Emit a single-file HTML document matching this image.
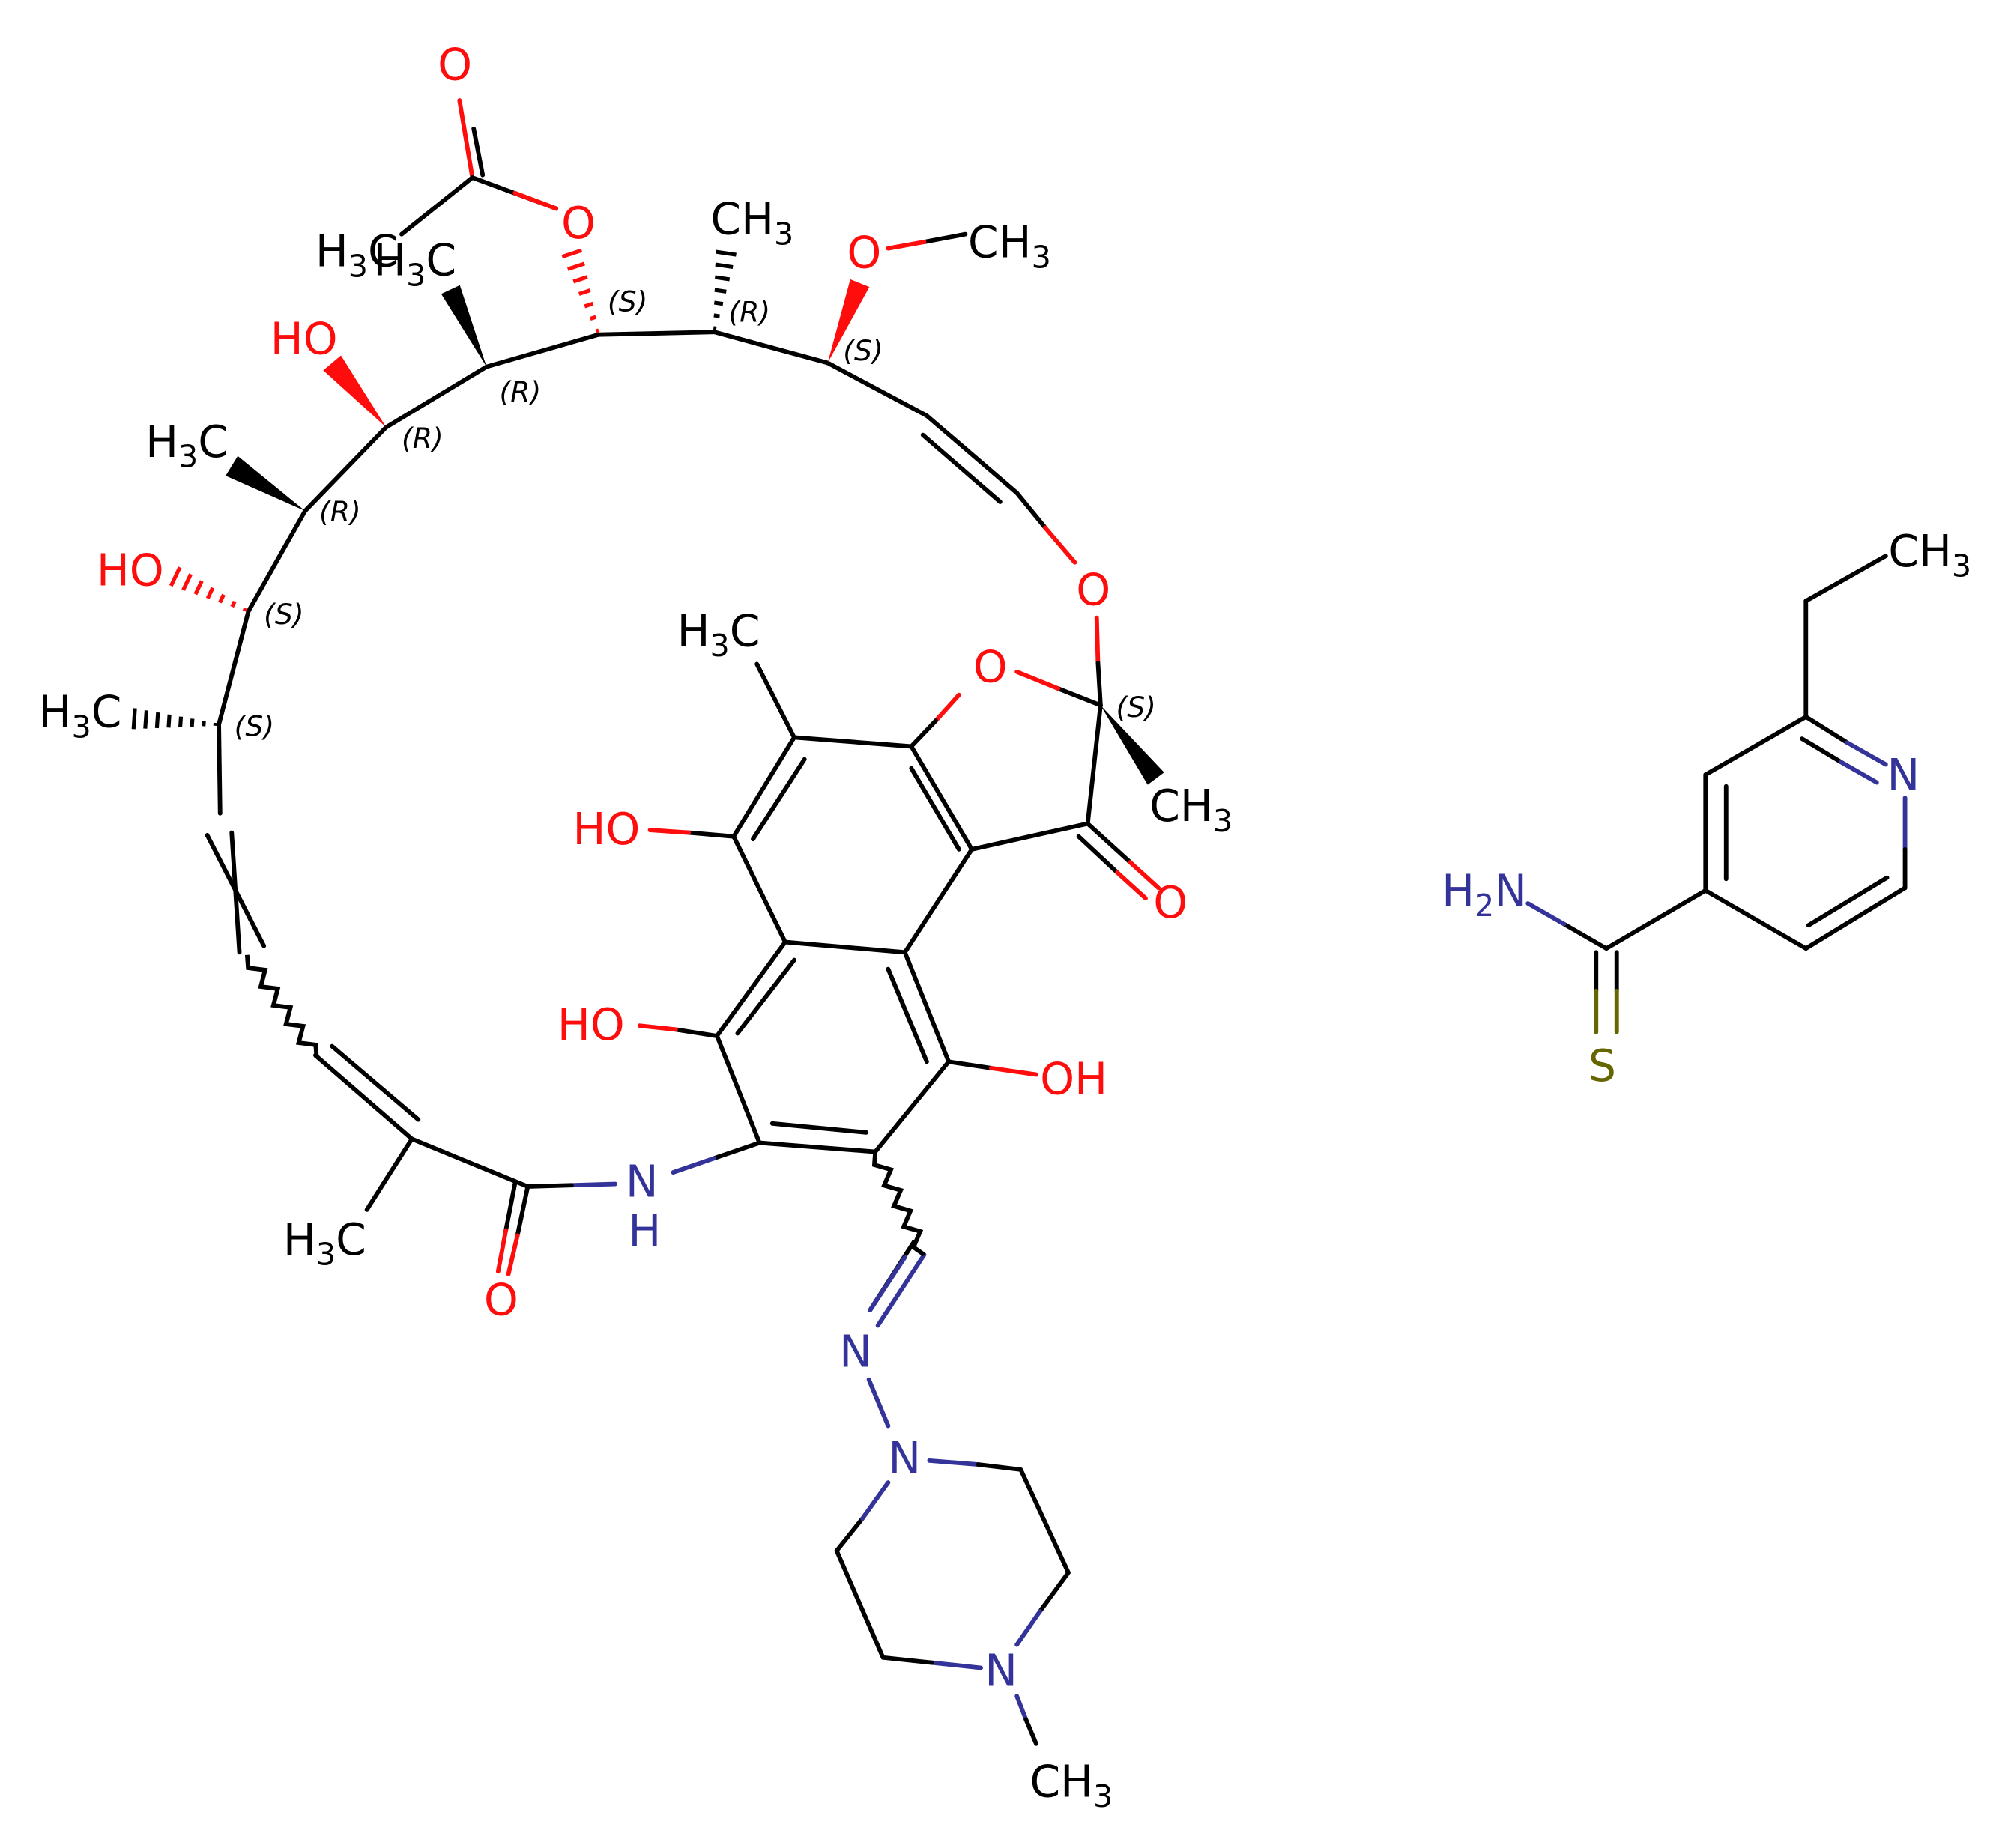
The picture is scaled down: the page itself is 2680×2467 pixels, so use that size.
<!DOCTYPE html>
<html><head><meta charset="utf-8"><style>
html,body{margin:0;padding:0;background:#fff}
svg{display:block}
text{font-family:"DejaVu Sans","Liberation Sans",sans-serif;font-size:34px}
.r{fill:#ff0d0d}.b{fill:#333399}.y{fill:#666600}.k{fill:#000}
.st{font-size:22px;font-style:italic}
</style></head><body>
<svg id="s" width="2680" height="2467" viewBox="0 0 1560 1436" xmlns="http://www.w3.org/2000/svg">
<g id="bonds" stroke="#000" stroke-width="3.4" fill="none" stroke-linecap="round">
<!-- acetyl -->
<line x1="367" y1="138" x2="357" y2="78" stroke="#ff0d0d"/>
<line x1="375" y1="136" x2="368" y2="100"/>
<line x1="367" y1="138" x2="312" y2="182"/>
<line x1="367" y1="138" x2="432" y2="162"/>
<line x1="400" y1="150" x2="432" y2="162" stroke="#ff0d0d"/>
<!-- macro chain -->
<line x1="465" y1="260" x2="555" y2="258"/>
<line x1="555" y1="258" x2="643" y2="282"/>
<line x1="643" y1="282" x2="720" y2="323"/>
<line x1="720" y1="323" x2="790" y2="383"/>
<line x1="717" y1="338" x2="777" y2="390"/>
<line x1="790" y1="383" x2="812" y2="410"/>
<line x1="812" y1="410" x2="835" y2="437" stroke="#ff0d0d"/>
<line x1="852" y1="480" x2="853" y2="515" stroke="#ff0d0d"/>
<line x1="853" y1="515" x2="855" y2="548"/>
<line x1="718" y1="188" x2="750" y2="182"/>
<line x1="690" y1="193" x2="718" y2="188" stroke="#ff0d0d"/>
<!-- furanone -->
<line x1="855" y1="548" x2="822" y2="535"/>
<line x1="822" y1="535" x2="790" y2="522" stroke="#ff0d0d"/>
<line x1="745" y1="540" x2="727" y2="560" stroke="#ff0d0d"/>
<line x1="727" y1="560" x2="708" y2="580"/>
<line x1="855" y1="548" x2="845" y2="640"/>
<line x1="845" y1="640" x2="878" y2="670"/>
<line x1="878" y1="670" x2="900" y2="690" stroke="#ff0d0d"/>
<line x1="838" y1="650" x2="868" y2="678"/>
<line x1="868" y1="678" x2="890" y2="698" stroke="#ff0d0d"/>
<line x1="845" y1="640" x2="755" y2="660"/>
<!-- aromatics -->
<line x1="708" y1="580" x2="755" y2="660"/>
<line x1="708" y1="597" x2="745" y2="660"/>
<line x1="617" y1="573" x2="708" y2="580"/>
<line x1="617" y1="573" x2="588" y2="516"/>
<line x1="617" y1="573" x2="570" y2="650"/>
<line x1="625" y1="590" x2="585" y2="652"/>
<line x1="570" y1="650" x2="535" y2="647"/>
<line x1="535" y1="647" x2="505" y2="645" stroke="#ff0d0d"/>
<line x1="570" y1="650" x2="610" y2="732"/>
<line x1="755" y1="660" x2="703" y2="740"/>
<line x1="610" y1="732" x2="703" y2="740"/>
<line x1="703" y1="740" x2="737" y2="825"/>
<line x1="690" y1="753" x2="720" y2="825"/>
<line x1="737" y1="825" x2="770" y2="830"/>
<line x1="770" y1="830" x2="805" y2="835" stroke="#ff0d0d"/>
<line x1="737" y1="825" x2="680" y2="895"/>
<line x1="680" y1="895" x2="590" y2="888"/>
<line x1="673" y1="880" x2="600" y2="873"/>
<line x1="590" y1="888" x2="557" y2="805"/>
<line x1="557" y1="805" x2="610" y2="732"/>
<line x1="573" y1="803" x2="617" y2="746"/>
<line x1="557" y1="805" x2="525" y2="800"/>
<line x1="525" y1="800" x2="497" y2="797" stroke="#ff0d0d"/>
<!-- amide -->
<line x1="590" y1="888" x2="555" y2="900"/>
<line x1="555" y1="900" x2="523" y2="911" stroke="#333399"/>
<line x1="478" y1="920" x2="444" y2="921" stroke="#333399"/>
<line x1="444" y1="921" x2="410" y2="922"/>
<line x1="410" y1="922" x2="402" y2="960"/>
<line x1="402" y1="960" x2="395" y2="990" stroke="#ff0d0d"/>
<line x1="400" y1="920" x2="393" y2="956"/>
<line x1="393" y1="956" x2="387" y2="988" stroke="#ff0d0d"/>
<line x1="410" y1="922" x2="320" y2="885"/>
<line x1="320" y1="885" x2="285" y2="940"/>
<line x1="320" y1="885" x2="245" y2="820"/>
<line x1="325" y1="870" x2="258" y2="813"/>
<line x1="161" y1="649" x2="205" y2="735"/>
<line x1="180" y1="647" x2="186" y2="740"/>
<line x1="170" y1="563" x2="171" y2="632"/>
<line x1="170" y1="563" x2="193" y2="475"/>
<line x1="193" y1="475" x2="237" y2="397"/>
<line x1="237" y1="397" x2="300" y2="332"/>
<line x1="300" y1="332" x2="378" y2="285"/>
<line x1="378" y1="285" x2="465" y2="260"/>
<!-- hydrazone -->
<line x1="718" y1="975" x2="682" y2="1030" stroke="#333399"/>
<line x1="710" y1="965" x2="676" y2="1018"/>
<line x1="703" y1="977" x2="676" y2="1018" stroke="#333399"/>
<line x1="675" y1="1072" x2="690" y2="1108" stroke="#333399"/>
<line x1="722" y1="1135" x2="760" y2="1138" stroke="#333399"/>
<line x1="760" y1="1138" x2="793" y2="1142"/>
<line x1="793" y1="1142" x2="830" y2="1222"/>
<line x1="830" y1="1222" x2="808" y2="1252"/>
<line x1="808" y1="1252" x2="790" y2="1278" stroke="#333399"/>
<line x1="762" y1="1296" x2="724" y2="1292" stroke="#333399"/>
<line x1="724" y1="1292" x2="686" y2="1288"/>
<line x1="686" y1="1288" x2="650" y2="1205"/>
<line x1="650" y1="1205" x2="670" y2="1180"/>
<line x1="670" y1="1180" x2="690" y2="1152" stroke="#333399"/>
<line x1="790" y1="1318" x2="797" y2="1336" stroke="#333399"/>
<line x1="797" y1="1336" x2="805" y2="1355"/>
<!-- right molecule -->
<line x1="1465" y1="432" x2="1403" y2="467"/>
<line x1="1403" y1="467" x2="1403" y2="557"/>
<line x1="1403" y1="557" x2="1435" y2="577"/>
<line x1="1435" y1="577" x2="1465" y2="594" stroke="#333399"/>
<line x1="1400" y1="574" x2="1430" y2="592"/>
<line x1="1430" y1="592" x2="1458" y2="608" stroke="#333399"/>
<line x1="1480" y1="620" x2="1480" y2="660" stroke="#333399"/>
<line x1="1480" y1="660" x2="1480" y2="690"/>
<line x1="1480" y1="690" x2="1403" y2="737"/>
<line x1="1466" y1="682" x2="1405" y2="719"/>
<line x1="1403" y1="737" x2="1325" y2="692"/>
<line x1="1325" y1="692" x2="1325" y2="602"/>
<line x1="1341" y1="683" x2="1341" y2="611"/>
<line x1="1325" y1="602" x2="1403" y2="557"/>
<line x1="1325" y1="692" x2="1248" y2="737"/>
<line x1="1248" y1="737" x2="1215" y2="718"/>
<line x1="1215" y1="718" x2="1187" y2="702" stroke="#333399"/>
<line x1="1240" y1="740" x2="1240" y2="770"/>
<line x1="1240" y1="770" x2="1240" y2="802" stroke="#666600"/>
<line x1="1256" y1="740" x2="1256" y2="770"/>
<line x1="1256" y1="770" x2="1256" y2="802" stroke="#666600"/>
</g>
<g id="wedges"></g>
<!-- labels -->
<text x="340" y="62" class="r">O</text>
<text x="436" y="185" class="r">O</text>
<text x="245" y="207" class="k">H<tspan font-size="24" dy="8">3</tspan><tspan dy="-8">C</tspan></text>
<text x="290" y="214" class="k">H<tspan font-size="24" dy="8">3</tspan><tspan dy="-8">C</tspan></text>
<text x="552" y="182" class="k">CH<tspan font-size="24" dy="8">3</tspan></text>
<text x="658" y="208" class="r">O</text>
<text x="752" y="200" class="k">CH<tspan font-size="24" dy="8">3</tspan></text>
<text x="210" y="275" class="r">HO</text>
<text x="113" y="355" class="k">H<tspan font-size="24" dy="8">3</tspan><tspan dy="-8">C</tspan></text>
<text x="75" y="455" class="r">HO</text>
<text x="30" y="565" class="k">H<tspan font-size="24" dy="8">3</tspan><tspan dy="-8">C</tspan></text>
<text x="836" y="470" class="r">O</text>
<text x="526" y="502" class="k">H<tspan font-size="24" dy="8">3</tspan><tspan dy="-8">C</tspan></text>
<text x="756" y="530" class="r">O</text>
<text x="893" y="638" class="k">CH<tspan font-size="24" dy="8">3</tspan></text>
<text x="896" y="713" class="r">O</text>
<text x="445" y="656" class="r">HO</text>
<text x="433" y="808" class="r">HO</text>
<text x="808" y="850" class="r">OH</text>
<text x="486" y="930" class="b">N</text>
<text x="488" y="968" class="b">H</text>
<text x="376" y="1022" class="r">O</text>
<text x="220" y="975" class="k">H<tspan font-size="24" dy="8">3</tspan><tspan dy="-8">C</tspan></text>
<text x="652" y="1062" class="b">N</text>
<text x="690" y="1145" class="b">N</text>
<text x="765" y="1310" class="b">N</text>
<text x="800" y="1396" class="k">CH<tspan font-size="24" dy="8">3</tspan></text>
<text x="1467" y="440" class="k">CH<tspan font-size="24" dy="8">3</tspan></text>
<text x="1466" y="614" class="b">N</text>
<text x="1120" y="704" class="b">H<tspan font-size="24" dy="8">2</tspan><tspan dy="-8">N</tspan></text>
<text x="1234" y="840" class="y">S</text>
<text x="472" y="242" class="st">(S)</text>
<text x="566" y="250" class="st">(R)</text>
<text x="655" y="280" class="st">(S)</text>
<text x="867" y="557" class="st">(S)</text>
<text x="388" y="312" class="st">(R)</text>
<text x="312" y="348" class="st">(R)</text>
<text x="248" y="405" class="st">(R)</text>
<text x="205" y="485" class="st">(S)</text>
<text x="182" y="572" class="st">(S)</text>
</svg>
<script>
var NS="http://www.w3.org/2000/svg",g=document.getElementById("wedges");
function el(n,a){var e=document.createElementNS(NS,n);for(var k in a)e.setAttribute(k,a[k]);g.appendChild(e);}
function wedge(x1,y1,x2,y2,c,w){var dx=x2-x1,dy=y2-y1,L=Math.hypot(dx,dy),px=-dy/L*w,py=dx/L*w;
el("polygon",{points:x1+","+y1+" "+(x2+px)+","+(y2+py)+" "+(x2-px)+","+(y2-py),fill:c});}
function hash(x1,y1,x2,y2,c,w,n){var dx=x2-x1,dy=y2-y1,L=Math.hypot(dx,dy),ux=-dy/L,uy=dx/L;
for(var i=0;i<n;i++){var t=(i+0.3)/n,hw=w*t+0.8,x=x1+dx*t,y=y1+dy*t;
el("line",{x1:x-ux*hw,y1:y-uy*hw,x2:x+ux*hw,y2:y+uy*hw,stroke:c,"stroke-width":3});}}
function wavy(x1,y1,x2,y2,n){var dx=x2-x1,dy=y2-y1,L=Math.hypot(dx,dy),ux=-dy/L,uy=dx/L,p="M"+x1+","+y1;
for(var i=1;i<=n;i++){var t=i/n,s=(i%2?1:-1)*5*(i<n?1:0);p+=" L"+(x1+dx*t+ux*s)+","+(y1+dy*t+uy*s);}
el("path",{d:p,stroke:"#000","stroke-width":3.4,fill:"none"});}
hash(465,260,442,190,"#ff0d0d",8,7);
hash(555,258,565,190,"#000",8,7);
wedge(643,282,668,220,"#ff0d0d",8);
wedge(855,548,898,605,"#000",8);
wedge(378,285,350,225,"#000",8);
wedge(300,332,258,282,"#ff0d0d",9);
wedge(237,397,180,362,"#000",9);
hash(193,475,130,445,"#ff0d0d",8,7);
hash(170,563,98,558,"#000",8,8);
wavy(192,742,246,822,11);
wavy(680,895,718,975,10);
</script>
</body></html>
